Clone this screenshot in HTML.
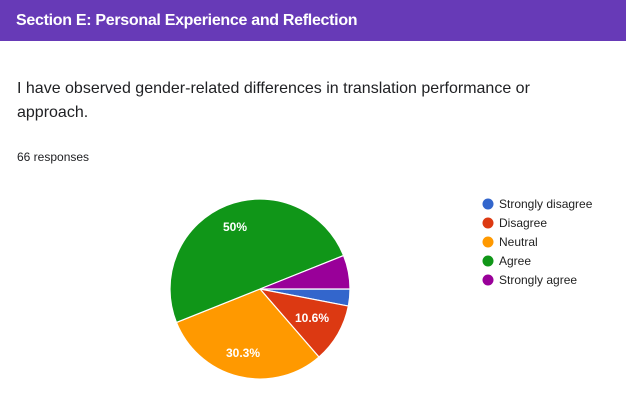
<!DOCTYPE html>
<html><head><style>
body{margin:0;width:626px;height:405px;background:#fff;font-family:"Liberation Sans",Arial,sans-serif;overflow:hidden;position:relative}
.hdr{position:absolute;left:0;top:0;width:626px;height:41px;background:#673ab7;color:#fff;font-weight:bold;font-size:16px;line-height:41px;padding-left:16px;box-sizing:border-box;letter-spacing:-0.3px}
.q{position:absolute;left:17px;top:77px;font-size:16px;color:#202124;line-height:24px;width:530px}
.r{position:absolute;left:17px;top:150px;font-size:12px;color:#202124}
</style></head><body>
<div class="hdr">Section E: Personal Experience and Reflection</div>
<div class="q">I have observed gender-related differences in translation performance or approach.</div>
<div class="r">66 responses</div>
<svg width="626" height="405" style="position:absolute;left:0;top:0">
<g stroke="#fff" stroke-width="1.2">
<path d="M260,289 L350,289 A90,90 0 0 1 348.37,306.04 Z" fill="#3366cc"/>
<path d="M260,289 L348.37,306.04 A90,90 0 0 1 318.93,357.02 Z" fill="#dc3912"/>
<path d="M260,289 L318.93,357.02 A90,90 0 0 1 176.44,322.45 Z" fill="#ff9900"/>
<path d="M260,289 L176.44,322.45 A90,90 0 0 1 343.56,255.55 Z" fill="#109618"/>
<path d="M260,289 L343.56,255.55 A90,90 0 0 1 350,289 Z" fill="#990099"/>
</g>
<g fill="#fff" font-size="12" font-weight="bold" font-family="Liberation Sans,Arial,sans-serif" text-anchor="middle">
<text x="235" y="231">50%</text>
<text x="312" y="322">10.6%</text>
<text x="243" y="357">30.3%</text>
</g>
<g font-size="12" font-family="Liberation Sans,Arial,sans-serif" fill="#222">
<circle cx="488" cy="204" r="5.5" fill="#3366cc"/><text x="499" y="208">Strongly disagree</text>
<circle cx="488" cy="223" r="5.5" fill="#dc3912"/><text x="499" y="227">Disagree</text>
<circle cx="488" cy="242" r="5.5" fill="#ff9900"/><text x="499" y="246">Neutral</text>
<circle cx="488" cy="261" r="5.5" fill="#109618"/><text x="499" y="265">Agree</text>
<circle cx="488" cy="280" r="5.5" fill="#990099"/><text x="499" y="284">Strongly agree</text>
</g>
</svg>
</body></html>
